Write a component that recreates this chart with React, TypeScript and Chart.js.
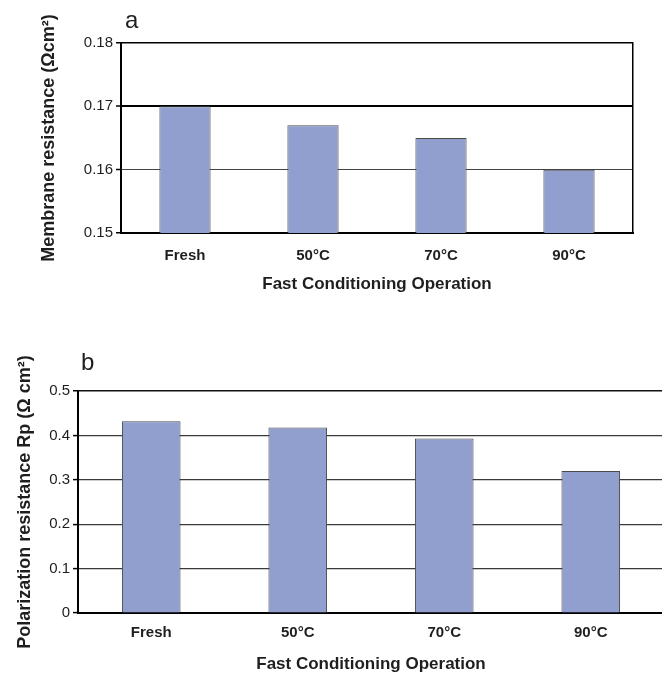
import React, { useEffect, useRef } from "react";
import { Chart, registerables } from "chart.js";

Chart.register(...registerables);

const categories = ["Fresh", "50°C", "70°C", "90°C"];
const membraneResistance = [0.17, 0.167, 0.165, 0.16];
const polarizationResistance = [0.432, 0.418, 0.393, 0.32];
const yTicksA = [0.15, 0.16, 0.17, 0.18];
const yTickLabelsA = ["0.15", "0.16", "0.17", "0.18"];
const yTicksB = [0, 0.1, 0.2, 0.3, 0.4, 0.5];
const yTickLabelsB = ["0", "0.1", "0.2", "0.3", "0.4", "0.5"];
const panelLabelA = "a";
const panelLabelB = "b";
const yTitleA = "Membrane resistance (Ωcm²)";
const yTitleB = "Polarization resistance Rp (Ω cm²)";
const xTitle = "Fast Conditioning Operation";

const FONT = "'Liberation Sans', Arial, Helvetica, sans-serif";
const BAR_FILL = "#919fcf";
const BAR_EDGE = "#4a4a4a";
const TEXT = "#1e1e1e";

const panelLabelPlugin = {
  id: "panelLabel",
  afterDraw(chart: any, _args: any, opts: any) {
    if (!opts || !opts.text) return;
    const ctx = chart.ctx;
    ctx.save();
    ctx.font = `${opts.size}px ${FONT}`;
    ctx.fillStyle = TEXT;
    ctx.textBaseline = "alphabetic";
    ctx.textAlign = "left";
    ctx.fillText(opts.text, opts.x, opts.y);
    ctx.restore();
  },
};

type PanelCfg = {
  values: number[];
  ticks: number[];
  tickLabels: string[];
  yTitle: string;
  panel: string;
  panelX: number;
  panelY: number;
  padTop: number;
  padRight: number;
  yAxisWidth: number;
  yTitlePad: number;
  xAxisHeight: number;
  xTickPad: number;
  xTitlePadBottom: number;
  rightBorderWidth: number;
  gridColor: (i: number) => string;
  gridWidth: (i: number) => number;
};

function makeConfig(p: PanelCfg): any {
  const scales: any = {
    x: {
      type: "category",
      offset: true,
      grid: { display: false },
      border: { display: true, color: "#000", width: 2 },
      ticks: {
        padding: p.xTickPad,
        color: TEXT,
        font: { family: FONT, size: 15, weight: "bold" },
        maxRotation: 0,
      },
      title: {
        display: true,
        text: xTitle,
        color: TEXT,
        font: { family: FONT, size: 17, weight: "bold" },
        padding: { top: 0, bottom: p.xTitlePadBottom },
      },
      afterFit: (s: any) => {
        s.height = p.xAxisHeight;
      },
    },
    y: {
      type: "linear",
      position: "left",
      min: p.ticks[0],
      max: p.ticks[p.ticks.length - 1],
      afterBuildTicks: (s: any) => {
        s.ticks = p.ticks.map((v) => ({ value: v }));
      },
      grid: {
        display: true,
        drawTicks: true,
        tickLength: 5,
        tickColor: "#000",
        tickWidth: 1.5,
        color: (c: any) => p.gridColor(c.index),
        lineWidth: (c: any) => p.gridWidth(c.index),
      },
      border: { display: true, color: "#000", width: 2 },
      ticks: {
        padding: 3,
        color: TEXT,
        font: { family: FONT, size: 15 },
        callback: (_v: any, i: number) => p.tickLabels[i],
      },
      title: {
        display: true,
        text: p.yTitle,
        color: TEXT,
        font: { family: FONT, size: 18, weight: "bold" },
        padding: { top: p.yTitlePad, bottom: 0 },
      },
      afterFit: (s: any) => {
        s.width = p.yAxisWidth;
      },
    },
  };
  if (p.rightBorderWidth > 0) {
    scales.yRight = {
      type: "linear",
      position: "right",
      display: true,
      grid: { display: false, drawTicks: false },
      ticks: { display: false },
      border: { display: true, color: "#000", width: 1.5 },
      afterFit: (s: any) => {
        s.width = p.rightBorderWidth;
      },
    };
  }
  return {
    type: "bar",
    data: {
      labels: categories,
      datasets: [
        {
          data: p.values,
          backgroundColor: BAR_FILL,
          borderColor: BAR_EDGE,
          borderWidth: 1,
          barPercentage: 0.4,
          categoryPercentage: 1.0,
          yAxisID: "y",
        },
      ],
    },
    options: {
      responsive: false,
      animation: false,
      devicePixelRatio: 1,
      layout: { padding: { top: p.padTop, left: 0, right: p.padRight, bottom: 0 } },
      plugins: {
        legend: { display: false },
        tooltip: { enabled: false },
        title: { display: false },
        panelLabel: { text: p.panel, x: p.panelX, y: p.panelY, size: 24 },
      },
      scales,
    },
    plugins: [panelLabelPlugin],
  };
}

function BarPanel({ cfg, width, height }: { cfg: PanelCfg; width: number; height: number }) {
  const ref = useRef<HTMLCanvasElement | null>(null);
  useEffect(() => {
    if (!ref.current) return;
    const chart = new Chart(ref.current, makeConfig(cfg));
    return () => chart.destroy();
  }, [cfg]);
  return (
    <canvas
      ref={ref}
      width={width}
      height={height}
      style={{ display: "block", width: `${width}px`, height: `${height}px` }}
    />
  );
}

const cfgA: PanelCfg = {
  values: membraneResistance,
  ticks: yTicksA,
  tickLabels: yTickLabelsA,
  yTitle: yTitleA,
  panel: panelLabelA,
  panelX: 125,
  panelY: 28,
  padTop: 43,
  padRight: 0,
  yAxisWidth: 121,
  yTitlePad: 38,
  xAxisHeight: 67,
  xTickPad: 6,
  xTitlePadBottom: 5,
  rightBorderWidth: 29,
  gridColor: (i) => (i === 1 ? "#444" : "#000"),
  gridWidth: (i) => (i === 2 ? 2 : i === 1 ? 1 : 1.5),
};

const cfgB: PanelCfg = {
  values: polarizationResistance,
  ticks: yTicksB,
  tickLabels: yTickLabelsB,
  yTitle: yTitleB,
  panel: panelLabelB,
  panelX: 81,
  panelY: 40,
  padTop: 61,
  padRight: 6,
  yAxisWidth: 78,
  yTitlePad: 14,
  xAxisHeight: 64,
  xTickPad: 3,
  xTitlePadBottom: 2,
  rightBorderWidth: 0,
  gridColor: (i) => (i === 5 ? "#111" : "#3a3a3a"),
  gridWidth: (i) => (i === 5 ? 1.5 : 1.2),
};

export default function App() {
  return (
    <div
      style={{
        position: "absolute",
        left: 0,
        top: 0,
        width: 662,
        height: 677,
        overflow: "hidden",
        background: "#fff",
      }}
    >
      <div style={{ position: "absolute", left: 0, top: 0 }}>
        <BarPanel cfg={cfgA} width={662} height={300} />
      </div>
      <div style={{ position: "absolute", left: 0, top: 330 }}>
        <BarPanel cfg={cfgB} width={670} height={347} />
      </div>
    </div>
  );
}
